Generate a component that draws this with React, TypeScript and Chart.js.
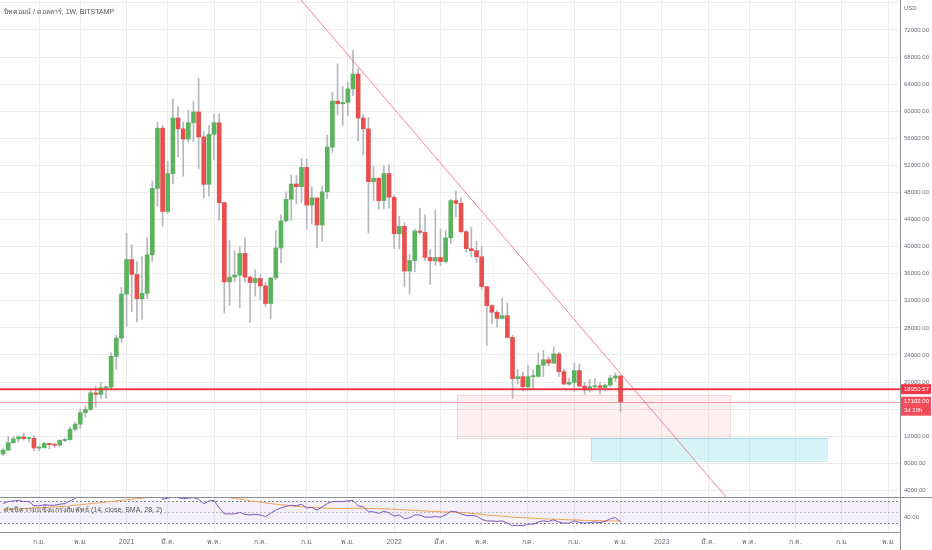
import { useEffect, useRef } from 'react';
import { Chart, registerables } from 'chart.js';

Chart.register(...registerables);

// Weekly candles, index 0 = week of 20 Jul 2020, index 120 = week of 7 Nov 2022
const OPEN = [
  9380, 9950, 11050, 11600, 11900, 11650, 11700, 10250, 10330, 10930,
  10750, 10670, 11370, 11500, 13030, 13780, 15480, 15960, 18400, 18180,
  19150, 19250, 23800, 26500, 33000, 38100, 35900, 32300, 33100, 38800,
  48600, 57500, 45200, 50800, 59000, 57400, 55900, 58300, 59900, 56200,
  49200, 56600, 58300, 46500, 34800, 35500, 35800, 39000, 35500, 34700,
  35300, 34200, 31600, 35400, 39800, 43800, 47000, 49250, 48850, 51700,
  46150, 47200, 43200, 48100, 54700, 61500, 61100, 61300, 63300, 65500,
  59000, 57400, 49600, 50100, 46800, 50800, 47300, 41900, 43000, 36400,
  37950, 42300, 42100, 38400, 37900, 38400, 37800, 41300, 46800, 46400,
  42200, 39700, 39400, 38500, 34100, 31300, 30300, 29400, 29800, 26600,
  20500, 20800, 19300, 20800, 20850, 22500, 23300, 22800, 24150, 21550,
  19700, 19950, 21700, 19400, 18850, 19300, 19450, 19200, 19550, 20600,
  20900,
];
const HIGH = [
  10150, 12000, 11900, 12090, 12480, 11800, 12090, 10600, 11100, 10990,
  10950, 11480, 11720, 13350, 14100, 15970, 16500, 18800, 19400, 19900,
  19420, 24300, 26900, 34000, 41950, 40250, 37800, 38500, 41300, 49700,
  58400, 57900, 52600, 61800, 60700, 58400, 60200, 61400, 64900, 57000,
  57900, 59600, 59600, 46600, 40900, 39400, 40000, 41300, 35700, 36600,
  35900, 34700, 35400, 42400, 44700, 48100, 50600, 50500, 53000, 52900,
  48800, 47300, 49000, 56500, 62800, 67000, 63700, 64300, 69000, 66300,
  59500, 59100, 51900, 50200, 51900, 52100, 47600, 44500, 43500, 38900,
  42600, 45700, 44700, 39600, 45400, 42600, 42400, 47000, 48200, 47200,
  42400, 42900, 40800, 40000, 34200, 31400, 30600, 32400, 31700, 26900,
  21900, 21500, 22500, 21800, 24300, 24700, 23700, 25200, 24400, 21900,
  20600, 22800, 22700, 19950, 20400, 20500, 19950, 19700, 21000, 21400,
  21000,
];
const LOW = [
  9150, 9900, 10950, 11150, 11380, 11150, 9860, 9880, 10200, 10150,
  10380, 10540, 11200, 11400, 12800, 13200, 14800, 15800, 16300, 17600,
  17600, 19000, 21900, 25900, 28200, 30400, 28900, 29300, 32300, 37800,
  46000, 43000, 44900, 49300, 53300, 50400, 55400, 55500, 51500, 47200,
  47500, 52800, 43900, 30200, 31300, 34800, 31000, 34800, 28800, 32700,
  32100, 31200, 29300, 35100, 37600, 43600, 43900, 46300, 46500, 42700,
  43400, 39800, 40800, 47100, 53900, 59500, 57900, 59400, 62300, 55600,
  53500, 42000, 46800, 45500, 45600, 45700, 39700, 39700, 34100, 33000,
  36300, 41800, 37900, 34400, 37200, 37200, 37600, 40500, 44400, 42100,
  39200, 38500, 37700, 33700, 25400, 28600, 28100, 29300, 26500, 17600,
  19700, 18700, 18900, 18900, 20700, 20800, 22400, 22700, 20800, 19600,
  19500, 18600, 19300, 18200, 18500, 18950, 18200, 18700, 19300, 20100,
  15600,
];
const CLOSE = [
  9950, 11050, 11600, 11900, 11650, 11700, 10250, 10330, 10930, 10750,
  10670, 11370, 11500, 13030, 13780, 15480, 15960, 18400, 18180, 19150,
  19250, 23800, 26500, 33000, 38100, 35900, 32300, 33100, 38800, 48600,
  57500, 45200, 50800, 59000, 57400, 55900, 58300, 59900, 56200, 49200,
  56600, 58300, 46500, 34800, 35500, 35800, 39000, 35500, 34700, 35300,
  34200, 31600, 35400, 39800, 43800, 47000, 49250, 48850, 51700, 46150,
  47200, 43200, 48100, 54700, 61500, 61100, 61300, 63300, 65500, 59000,
  57400, 49600, 50100, 46800, 50800, 47300, 41900, 43000, 36400, 37950,
  42300, 42100, 38400, 37900, 38400, 37800, 41300, 46800, 46400, 42200,
  39700, 39400, 38500, 34100, 31300, 30300, 29400, 29800, 26600, 20500,
  20800, 19300, 20800, 20850, 22500, 23300, 22800, 24150, 21550, 19700,
  19950, 21700, 19400, 18850, 19300, 19450, 19200, 19550, 20600, 20900,
  17102,
];

// RSI (14) and its moving average, one value per week
const RSI = [
  66, 70, 71, 72, 70, 70, 62, 62, 64, 63,
  63, 65, 66, 71, 76, 82, 83, 87, 86, 88,
  88, 91, 92, 94, 95, 90, 84, 85, 87, 90,
  92, 74, 76, 78, 77, 75, 76, 77, 74, 66,
  71, 72, 58, 47, 47, 47, 50, 46, 45, 46,
  45, 42, 48, 54, 58, 61, 63, 62, 65, 58,
  59, 54, 60, 66, 70, 70, 70, 71, 72, 62,
  60, 51, 51, 48, 52, 49, 43, 45, 38, 40,
  45, 45, 41, 41, 42, 41, 45, 52, 51, 47,
  44, 44, 43, 37, 34, 34, 33, 34, 30, 25,
  26, 25, 28, 28, 32, 34, 33, 36, 32, 30,
  30, 34, 31, 30, 31, 32, 31, 33, 38, 40,
  32,
];
const RSI_MA = [
  54, 55, 55.5, 56, 57, 57.5, 58, 58.5, 59, 59.5,
  60, 60.5, 61, 62, 63, 64, 65, 66, 67, 68,
  69, 70, 71, 72, 73, 74, 75, 76, 77, 78,
  79, 79.5, 80, 80.5, 81, 81.5, 82, 82, 82, 81.5,
  81, 80.5, 79.5, 78, 77, 75.5, 74.5, 73, 71.5, 70,
  69, 67.5, 66, 65, 64, 63, 62, 61, 60.5, 59.5,
  59, 58.5, 58, 57.5, 57, 57, 57, 57, 57.5, 57.5,
  57.5, 57, 57, 56.5, 56.5, 56, 55.5, 55, 54.5, 54,
  53.5, 53, 52.5, 52, 51.5, 51, 50.5, 50.5, 50, 49.5,
  49, 48, 47, 46, 45, 44, 43.5, 43, 42, 41,
  40.5, 40, 39.5, 39, 38.5, 38, 37.5, 37.5, 37, 36.5,
  36, 36, 35.5, 35, 35, 34.5, 34.5, 34, 34, 34,
  34,
];

// Time axis: first weekly bar of every second month
const TICK_WEEKS = [7, 15, 24, 32, 41, 50, 59, 67, 76, 85, 93, 102, 111, 120, 128, 137, 145, 154, 163, 172];
const TICK_LABELS = ['ก.ย.', 'พ.ย.', '2021', 'มี.ค.', 'พ.ค.', 'ก.ค.', 'ก.ย.', 'พ.ย.', '2022', 'มี.ค.', 'พ.ค.', 'ก.ค.', 'ก.ย.', 'พ.ย.', '2023', 'มี.ค.', 'พ.ค.', 'ก.ค.', 'ก.ย.', 'พ.ย.'];
const PRICE_TICKS = [4000, 8000, 12000, 16000, 20000, 24000, 28000, 32000, 36000, 40000, 44000, 48000, 52000, 56000, 60000, 64000, 68000, 72000, 76000];
const RSI_TICKS = [40];
const RSI_LEVELS = [70, 50, 30];

const KEY_LEVEL = 18950.57;
const LAST_PRICE = 17102.0;
const TIME_LEFT = '3d 20h';
const TREND_X = [57.9, 140.5];
const TREND_Y = [76431, 3024];
const ZONE_PINK = { x: [88.2, 141.3], y: [18050, 11750] };
const ZONE_CYAN = { x: [114.2, 160.1], y: [11750, 8400] };

const TITLE = 'บิทคอยน์ / ดอลลาร์, 1W, BITSTAMP';
const RSI_TITLE = 'ดัชนีความแข็งแกร่งสัมพัทธ์ (14, close, SMA, 28, 2)';

const FONT = "'Liberation Sans', 'DejaVu Sans', sans-serif";
const UP = '#5bb35e';
const DOWN = '#e8504f';
const WICK = '#b4b7be';
const RED = '#f23645';
const GRID = '#ececec';
const TEXT = '#6a6d78';
const SEP = '#8c8f99';

const overlay = {
  id: 'overlay',
  beforeDatasetsDraw(chart: any) {
    const { ctx, chartArea, scales } = chart;
    const x = scales.x, y = scales.y, y2 = scales.y2;
    ctx.save();
    const t = y2.getPixelForValue(RSI_LEVELS[0]);
    const b = y2.getPixelForValue(RSI_LEVELS[2]);
    ctx.fillStyle = 'rgba(126,87,194,0.09)';
    ctx.fillRect(chartArea.left, t, chartArea.right - chartArea.left, b - t);
    ctx.setLineDash([2, 2]);
    RSI_LEVELS.forEach((lv, i) => {
      const p = Math.round(y2.getPixelForValue(lv)) + 0.5;
      ctx.strokeStyle = i === 1 ? 'rgba(120,123,134,0.45)' : 'rgba(120,123,134,0.9)';
      ctx.lineWidth = 1;
      ctx.beginPath();
      ctx.moveTo(chartArea.left, p);
      ctx.lineTo(chartArea.right, p);
      ctx.stroke();
    });
    ctx.setLineDash([]);
    const drawZone = (z: any, fill: string, stroke: string) => {
      const x0 = x.getPixelForValue(z.x[0]);
      const x1 = x.getPixelForValue(z.x[1]);
      const y0 = y.getPixelForValue(z.y[0]);
      const y1 = y.getPixelForValue(z.y[1]);
      ctx.fillStyle = fill;
      ctx.fillRect(x0, y0, x1 - x0, y1 - y0);
      ctx.strokeStyle = stroke;
      ctx.lineWidth = 1;
      ctx.strokeRect(Math.round(x0) + 0.5, Math.round(y0) + 0.5, Math.round(x1 - x0), Math.round(y1 - y0));
    };
    drawZone(ZONE_PINK, 'rgba(242,54,69,0.08)', 'rgba(242,54,69,0.18)');
    drawZone(ZONE_CYAN, 'rgba(0,188,212,0.16)', 'rgba(0,188,212,0.22)');
    ctx.restore();
  },
  afterDatasetsDraw(chart: any) {
    const { ctx, chartArea, scales } = chart;
    const y = scales.y;
    ctx.save();
    const pLast = Math.round(y.getPixelForValue(LAST_PRICE)) + 0.5;
    ctx.strokeStyle = 'rgba(242,54,69,0.45)';
    ctx.lineWidth = 1;
    ctx.beginPath();
    ctx.moveTo(chartArea.left, pLast);
    ctx.lineTo(chartArea.right, pLast);
    ctx.stroke();
    const pKey = y.getPixelForValue(KEY_LEVEL);
    ctx.strokeStyle = RED;
    ctx.lineWidth = 2;
    ctx.beginPath();
    ctx.moveTo(chartArea.left, pKey);
    ctx.lineTo(chartArea.right, pKey);
    ctx.stroke();
    ctx.font = `7px ${FONT}`;
    ctx.fillStyle = '#555';
    ctx.textBaseline = 'middle';
    ctx.textAlign = 'left';
    ctx.fillText(RSI_TITLE, 4, scales.y2.top + 13);
    ctx.restore();
  },
  afterDraw(chart: any) {
    const { ctx, chartArea, scales, width, height } = chart;
    const y = scales.y;
    ctx.save();
    ctx.strokeStyle = SEP;
    ctx.lineWidth = 1;
    const sep = Math.round(y.bottom) + 0.5;
    ctx.beginPath();
    ctx.moveTo(0, sep);
    ctx.lineTo(width, sep);
    const bot = Math.round(chartArea.bottom) + 0.5;
    ctx.moveTo(0, bot);
    ctx.lineTo(chartArea.right, bot);
    const vx = Math.round(chartArea.right) + 0.5;
    ctx.moveTo(vx, 0);
    ctx.lineTo(vx, height);
    ctx.stroke();

    ctx.font = `6px ${FONT}`;
    ctx.textBaseline = 'middle';
    ctx.textAlign = 'left';
    const pKey = y.getPixelForValue(KEY_LEVEL);
    ctx.fillStyle = RED;
    ctx.fillRect(chartArea.right + 1, pKey - 5, 30, 10);
    ctx.fillStyle = '#fff';
    ctx.fillText(KEY_LEVEL.toFixed(2), chartArea.right + 4, pKey);
    const pLast = y.getPixelForValue(LAST_PRICE);
    ctx.fillStyle = 'rgba(242,54,69,0.88)';
    ctx.fillRect(chartArea.right + 1, pLast - 5, 30, 19);
    ctx.fillStyle = '#fff';
    ctx.fillText(LAST_PRICE.toFixed(2), chartArea.right + 4, pLast);
    ctx.fillText(TIME_LEFT, chartArea.right + 4, pLast + 9);

    ctx.fillStyle = TEXT;
    ctx.fillText('USD', chartArea.right + 4, 8);
    ctx.font = `7px ${FONT}`;
    ctx.fillStyle = '#555';
    ctx.fillText(TITLE, 4, 12);
    ctx.restore();
  },
};

export default function App() {
  const ref = useRef<HTMLCanvasElement>(null);
  useEffect(() => {
    document.body.style.margin = '0';
    const idx = OPEN.map((_, i) => i);
    const chart = new Chart(ref.current as HTMLCanvasElement, {
      type: 'bar',
      data: {
        datasets: [
          {
            type: 'line',
            data: TREND_X.map((v, i) => ({ x: v, y: TREND_Y[i] })),
            yAxisID: 'y',
            borderColor: 'rgba(242,54,69,0.6)',
            borderWidth: 1,
            pointRadius: 0,
            order: 0,
          } as any,
          {
            type: 'bar',
            data: idx.map((i) => ({ x: i, y: [OPEN[i], CLOSE[i]] })),
            yAxisID: 'y',
            barThickness: 4,
            minBarLength: 1,
            grouped: false,
            borderWidth: 0,
            backgroundColor: (c: any) => (CLOSE[c.dataIndex] >= OPEN[c.dataIndex] ? UP : DOWN),
            order: 1,
          } as any,
          {
            type: 'bar',
            data: idx.map((i) => ({ x: i, y: [LOW[i], HIGH[i]] })),
            yAxisID: 'y',
            barThickness: 1,
            grouped: false,
            borderWidth: 0,
            backgroundColor: WICK,
            order: 2,
          } as any,
          {
            type: 'line',
            data: idx.map((i) => ({ x: i, y: RSI[i] })),
            yAxisID: 'y2',
            borderColor: '#7e57c2',
            borderWidth: 1,
            pointRadius: 0,
            order: 3,
          } as any,
          {
            type: 'line',
            data: idx.map((i) => ({ x: i, y: RSI_MA[i] })),
            yAxisID: 'y2',
            borderColor: '#f0a050',
            borderWidth: 1,
            pointRadius: 0,
            order: 4,
          } as any,
        ],
      },
      options: {
        responsive: false,
        animation: false,
        layout: { padding: 0 },
        plugins: { legend: { display: false }, tooltip: { enabled: false }, title: { display: false } },
        scales: {
          x: {
            type: 'linear',
            position: 'bottom',
            offset: false,
            min: -0.6,
            max: 174.3,
            afterBuildTicks: (s: any) => {
              s.ticks = TICK_WEEKS.map((v) => ({ value: v }));
            },
            afterFit: (s: any) => {
              s.height = 18;
              s.paddingLeft = 0;
              s.paddingRight = 0;
            },
            grid: { color: GRID, drawTicks: false, offset: false },
            border: { display: false },
            ticks: {
              autoSkip: false,
              maxRotation: 0,
              padding: 6,
              color: TEXT,
              font: { size: 7, family: FONT },
              callback: (v: any) => {
                const k = TICK_WEEKS.indexOf(v);
                return k >= 0 ? TICK_LABELS[k] : '';
              },
            },
          },
          y: {
            type: 'linear',
            position: 'right',
            stack: 'panes',
            stackWeight: 497,
            min: 3024,
            max: 76431,
            afterBuildTicks: (s: any) => {
              s.ticks = PRICE_TICKS.map((v) => ({ value: v }));
            },
            afterFit: (s: any) => {
              s.width = 32;
              s.paddingTop = 0;
              s.paddingBottom = 0;
            },
            grid: { color: GRID, drawTicks: false },
            border: { display: false },
            ticks: {
              padding: 4,
              color: TEXT,
              font: { size: 6, family: FONT },
              callback: (v: any) => (v > 72000 ? '' : Number(v).toFixed(2)),
            },
          },
          y2: {
            type: 'linear',
            position: 'right',
            stack: 'panes',
            stackWeight: 35,
            min: 13.5,
            max: 78.3,
            afterBuildTicks: (s: any) => {
              s.ticks = RSI_TICKS.map((v) => ({ value: v }));
            },
            afterFit: (s: any) => {
              s.width = 32;
              s.paddingTop = 0;
              s.paddingBottom = 0;
            },
            grid: { display: false, drawTicks: false },
            border: { display: false },
            ticks: {
              padding: 4,
              color: TEXT,
              font: { size: 6, family: FONT },
              callback: (v: any) => Number(v).toFixed(2),
            },
          },
        },
      } as any,
      plugins: [overlay],
    });
    return () => chart.destroy();
  }, []);
  return (
    <div style={{ width: 932, height: 550, position: 'relative', background: '#fff' }}>
      <canvas ref={ref} width={932} height={550} style={{ display: 'block' }} />
    </div>
  );
}
